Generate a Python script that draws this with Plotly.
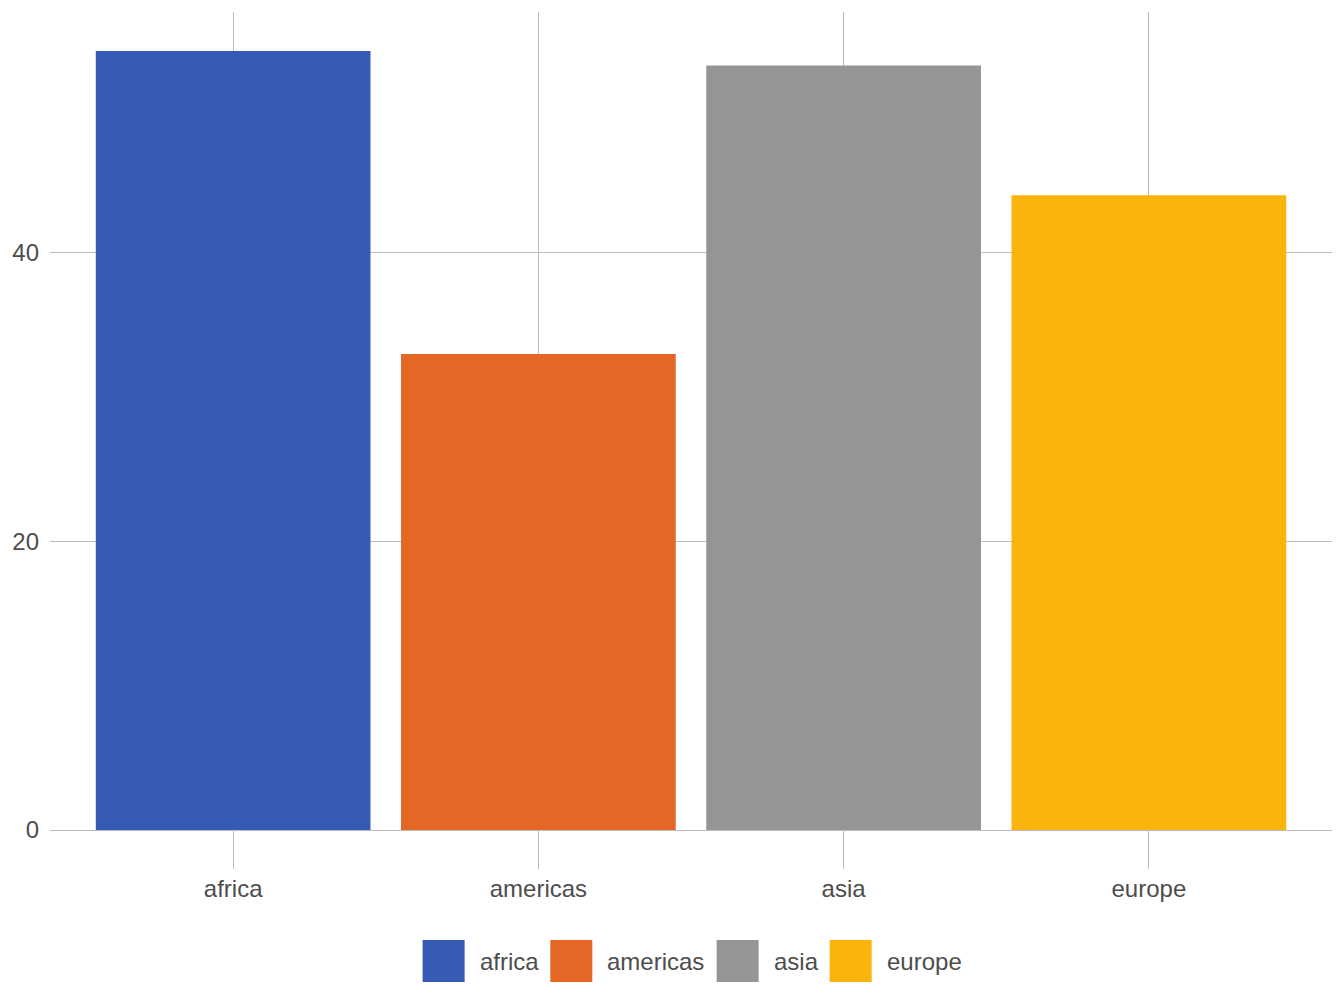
import plotly.graph_objects as go

categories = ["africa", "americas", "asia", "europe"]
values = [54, 33, 53, 44]
colors = ["#365BB5", "#E46726", "#959595", "#FBB40B"]
y_ticks = [0, 20, 40]

OFF = 8  # browser body margin
W, H = 1344 - OFF, 1008 - OFF
L, R, T, B = 50 - OFF, 12, 12 - OFF, 178
pw, ph = W - L - R, H - T - B
FONT = "Liberation Sans, Arial, Helvetica, sans-serif"
FS = 24
TXT = "#4d4d4d"
GRID = "#bdbdbd"

fig = go.Figure()
fig.add_trace(go.Bar(x=categories, y=values, marker=dict(color=colors, line=dict(width=0)),
                     showlegend=False, hoverinfo="x+y"))

ymax = max(values) * 1.05
fig.update_layout(
    width=W, height=H,
    margin=dict(l=L, r=R, t=T, b=B),
    paper_bgcolor="white", plot_bgcolor="white",
    bargap=0.1,
    font=dict(family=FONT, size=FS, color=TXT),
    xaxis=dict(range=[-0.6, len(categories) - 0.4], showgrid=True, gridcolor=GRID, gridwidth=1.3,
               ticks="outside", ticklen=38, tickcolor=GRID, tickwidth=1.3,
               showline=False, zeroline=False, ticklabelstandoff=-1,
               tickfont=dict(size=FS, color=TXT)),
    yaxis=dict(range=[0, ymax], tickvals=y_ticks, showgrid=True, gridcolor=GRID, gridwidth=1.3,
               zeroline=True, zerolinecolor=GRID, zerolinewidth=1.3, showline=False,
               ticks="", ticklabelstandoff=10, tickfont=dict(size=FS, color=TXT)),
)

# custom legend (large square swatches), centered below the plot
char_w = {"a": .556, "f": .278, "r": .333, "i": .222, "c": .5, "m": .833, "e": .556,
          "s": .5, "u": .556, "o": .556, "p": .556}
def text_w(s):
    return sum(char_w.get(ch, .55) for ch in s) * FS

sw, gap1, gap2 = 42, 13, 14
widths = [sw + gap1 + text_w(c) for c in categories]
total = sum(widths) + gap2 * (len(categories) - 1)
cx = L + pw / 2
x = cx - total / 2
yc = 961 - OFF
def px2x(p): return (p - L) / pw
def py2y(p): return (H - B - p) / ph
for c, col, w in zip(categories, colors, widths):
    fig.add_shape(type="rect", xref="paper", yref="paper",
                  x0=px2x(x), x1=px2x(x + sw), y0=py2y(yc + sw / 2), y1=py2y(yc - sw / 2),
                  fillcolor=col, line=dict(width=0))
    fig.add_annotation(xref="paper", yref="paper", x=px2x(x + sw + gap1), y=py2y(yc),
                       xanchor="left", yanchor="middle", text=c, showarrow=False,
                       font=dict(size=FS, color=TXT, family=FONT))
    x += w + gap2

fig.write_html("out.html")
